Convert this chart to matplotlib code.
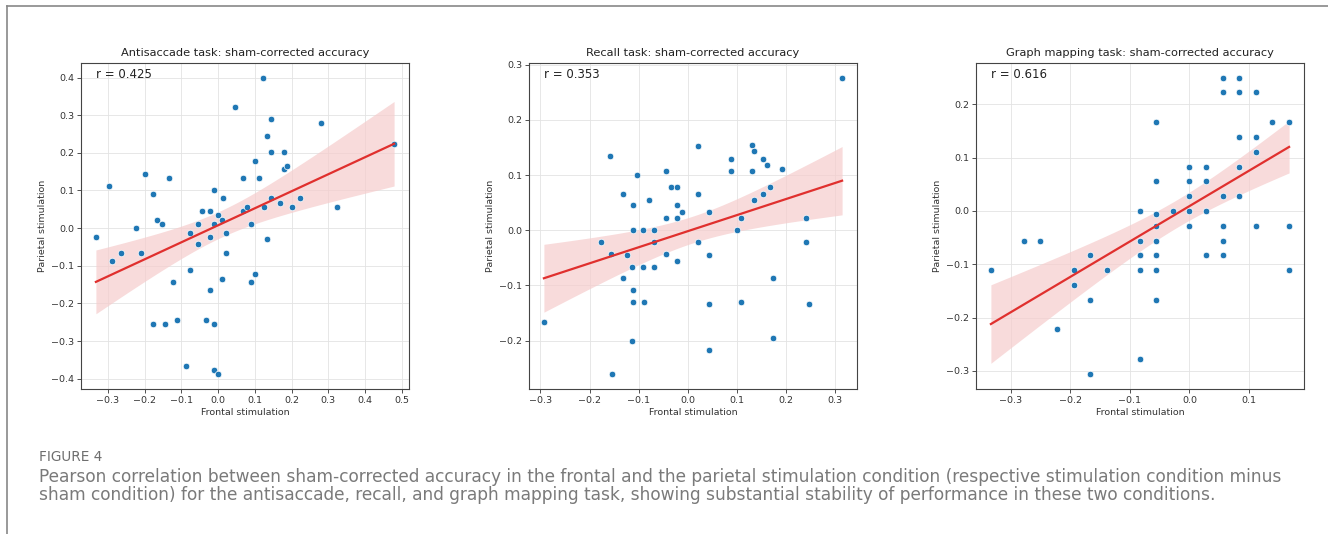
import numpy as np
import matplotlib
matplotlib.use("Agg")
import matplotlib.pyplot as plt
from matplotlib.lines import Line2D

titles = ["Antisaccade task: sham-corrected accuracy",
          "Recall task: sham-corrected accuracy",
          "Graph mapping task: sham-corrected accuracy"]
r_labels = ["r = 0.425", "r = 0.353", "r = 0.616"]
xlabel = "Frontal stimulation"
ylabel = "Parietal stimulation"

anti_x = [-0.333, -0.298, -0.198, -0.177, -0.133, -0.223, -0.167, -0.154, -0.078, -0.055,
          -0.043, -0.023, -0.012, 0.012, 0.0, -0.011, 0.011, 0.022, -0.023, 0.045,
          0.068, 0.068, 0.078, 0.090, 0.100, 0.111, 0.124, 0.123, 0.133, 0.145,
          0.145, 0.145, 0.168, 0.179, 0.179, 0.188, 0.201, 0.224, 0.280, 0.323,
          0.479, 0.133, -0.289, -0.266, -0.210, -0.055, 0.022, -0.078, -0.122, 0.011,
          -0.023, 0.089, 0.100, -0.177, -0.144, -0.111, -0.033, -0.011, -0.088, -0.011,
          0.0]
anti_y = [-0.023, 0.111, 0.145, 0.090, 0.134, 0.0, 0.022, 0.012, -0.012, 0.012,
          0.045, 0.045, 0.101, 0.079, 0.035, 0.012, 0.022, -0.012, -0.023, 0.323,
          0.134, 0.045, 0.057, 0.012, 0.179, 0.134, 0.057, 0.400, 0.244, 0.289,
          0.201, 0.079, 0.067, 0.201, 0.156, 0.166, 0.057, 0.079, 0.278, 0.057,
          0.223, -0.030, -0.088, -0.065, -0.065, -0.043, -0.065, -0.112, -0.144, -0.134,
          -0.165, -0.144, -0.122, -0.256, -0.256, -0.244, -0.244, -0.256, -0.366, -0.377,
          -0.388]

recall_x = [0.314, -0.158, -0.103, -0.132, -0.111, -0.080, -0.045, -0.035, -0.023, -0.023,
            -0.012, -0.045, -0.023, 0.021, 0.021, 0.044, 0.088, 0.088, 0.131, 0.134,
            0.131, 0.153, 0.161, 0.191, 0.167, 0.153, 0.134, 0.108, 0.241, -0.111,
            -0.091, -0.069, 0.100, -0.177, -0.156, -0.124, -0.068, -0.045, -0.023, 0.021,
            0.044, 0.241, -0.114, -0.091, -0.068, -0.132, -0.111, -0.111, -0.089, 0.044,
            0.109, 0.246, 0.174, 0.174, -0.293, -0.114, 0.043, -0.155]
recall_y = [0.277, 0.134, 0.101, 0.066, 0.045, 0.055, 0.108, 0.078, 0.078, 0.045,
            0.034, 0.022, 0.022, 0.152, 0.066, 0.034, 0.130, 0.108, 0.155, 0.144,
            0.108, 0.130, 0.118, 0.111, 0.078, 0.066, 0.055, 0.022, 0.022, 0.0,
            0.0, 0.0, 0.0, -0.022, -0.043, -0.045, -0.022, -0.043, -0.056, -0.022,
            -0.045, -0.022, -0.066, -0.066, -0.066, -0.087, -0.109, -0.131, -0.131, -0.133,
            -0.131, -0.133, -0.087, -0.196, -0.166, -0.200, -0.217, -0.261]

graph_x = [0.056, 0.083, 0.056, 0.083, 0.111, -0.056, 0.139, 0.167, 0.083, 0.111,
           0.111, 0.0, 0.028, 0.083, -0.056, 0.0, 0.028, 0.0, 0.056, 0.083,
           -0.083, -0.056, -0.028, 0.0, 0.028, -0.056, 0.0, 0.056, 0.111, 0.167,
           -0.278, -0.250, -0.083, -0.056, 0.056, -0.167, -0.083, -0.056, 0.028, 0.056,
           -0.333, -0.194, -0.139, -0.083, -0.056, 0.167, -0.194, -0.167, -0.056, -0.222,
           -0.083, -0.167]
graph_y = [0.250, 0.250, 0.222, 0.222, 0.222, 0.167, 0.167, 0.167, 0.139, 0.139,
           0.111, 0.083, 0.083, 0.083, 0.056, 0.056, 0.056, 0.028, 0.028, 0.028,
           0.0, -0.006, 0.0, 0.0, 0.0, -0.028, -0.028, -0.028, -0.028, -0.028,
           -0.056, -0.056, -0.056, -0.056, -0.056, -0.083, -0.083, -0.083, -0.083, -0.083,
           -0.111, -0.111, -0.111, -0.111, -0.111, -0.111, -0.139, -0.167, -0.167, -0.222,
           -0.278, -0.306]

datasets = [(anti_x, anti_y), (recall_x, recall_y), (graph_x, graph_y)]

caption_head = "FIGURE 4"
caption_lines = [
    "Pearson correlation between sham-corrected accuracy in the frontal and the parietal stimulation condition (respective stimulation condition minus",
    "sham condition) for the antisaccade, recall, and graph mapping task, showing substantial stability of performance in these two conditions.",
]

W, H = 1328, 534
fig = plt.figure(figsize=(W / 100, H / 100), dpi=100)

ax_px = [(81, 409), (529, 857), (976, 1304)]
top_px, bot_px = 62.7, 389

def fit_ci(x, y, xs, mult=1.8):
    x = np.asarray(x); y = np.asarray(y)
    n = len(x)
    b, a = np.polyfit(x, y, 1)
    yhat = a + b * xs
    resid = y - (a + b * x)
    s = np.sqrt(np.sum(resid ** 2) / (n - 2))
    sxx = np.sum((x - x.mean()) ** 2)
    se = s * np.sqrt(1.0 / n + (xs - x.mean()) ** 2 / sxx)
    return yhat, yhat - mult * se, yhat + mult * se

for i, ((x, y), (l, r)) in enumerate(zip(datasets, ax_px)):
    ax = fig.add_axes([l / W, (H - bot_px) / H, (r - l) / W, (bot_px - top_px) / H])
    ax.grid(True, color="#e3e3e3", linewidth=0.6)
    ax.set_axisbelow(True)
    xs = np.linspace(min(x), max(x), 100)
    yhat, lo, hi = fit_ci(x, y, xs)
    ax.fill_between(xs, lo, hi, color="#f6cccc", alpha=0.7, linewidth=0, zorder=1)
    ax.scatter(x, y, s=22, color="#1f77b4", edgecolor="white", linewidth=0.5, zorder=3)
    ax.plot(xs, yhat, color="#e0302e", linewidth=1.6, zorder=4)
    ax.set_title(titles[i], fontsize=8.2, color="#222222", pad=5)
    ax.set_xlabel(xlabel, fontsize=6.8, color="#333333", labelpad=2)
    ax.set_ylabel(ylabel, fontsize=6.8, color="#333333", labelpad=3)
    ax.tick_params(labelsize=6.8, colors="#333333", length=3, width=0.6, pad=2)
    for sp in ax.spines.values():
        sp.set_color("#444444")
        sp.set_linewidth(0.8)
    ax.text(0.046, 0.964, r_labels[i], transform=ax.transAxes, fontsize=8.5,
            color="#222222", va="center", ha="left")

# page border lines
fig.add_artist(Line2D([7 / W, 7 / W], [0, 1 - 6 / H], color="#888888", linewidth=1.2))
fig.add_artist(Line2D([7 / W, 1], [1 - 6 / H, 1 - 6 / H], color="#888888", linewidth=1.2))

fig.text(39 / W, 1 - 457 / H, caption_head, fontsize=9.8, color="#6e6e6e",
         family="DejaVu Sans", va="center", ha="left")
for k, line in enumerate(caption_lines):
    fig.text(39 / W, 1 - (477 + 18.5 * k) / H, line, fontsize=12.25, color="#7a7a7a",
             family="DejaVu Sans", va="center", ha="left")

fig.savefig("out.png", dpi=100, facecolor="white")
